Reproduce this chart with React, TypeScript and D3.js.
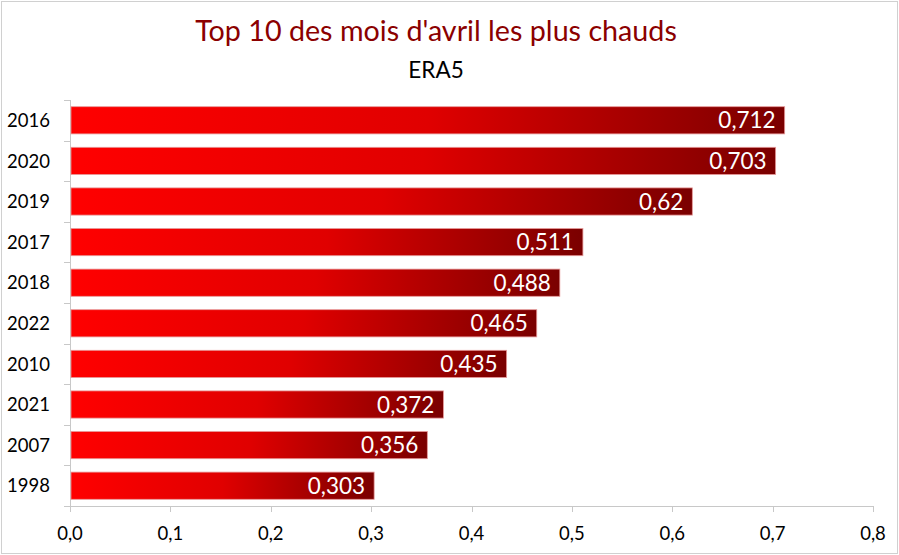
import React from "react";
import * as d3 from "d3";

const years = ["2016", "2020", "2019", "2017", "2018", "2022", "2010", "2021", "2007", "1998"];
const values = [0.712, 0.703, 0.62, 0.511, 0.488, 0.465, 0.435, 0.372, 0.356, 0.303];
const xTicks = [0, 0.1, 0.2, 0.3, 0.4, 0.5, 0.6, 0.7, 0.8];
const title = "Top 10 des mois d'avril les plus chauds";
const subtitle = "ERA5";

const W = 899;
const H = 555;
const FONT = "Lato, 'Open Sans', sans-serif";

export default function App() {
  const x = d3.scaleLinear().domain([0, 0.8]).range([70, 873]);
  const y = d3.scaleBand().domain(years).range([100, 506]).paddingInner(0.33).paddingOuter(0.165);
  const fmt = (v: number) => v.toString().replace(".", ",");
  const tickFmt = (v: number) => v.toFixed(1).replace(".", ",");
  const bandBounds = d3.range(years.length + 1).map((i) => 100 + (i * (506 - 100)) / years.length);

  return (
    <svg width={W} height={H} style={{ position: "absolute", left: 0, top: 0, fontFamily: FONT }}>
      <defs>
        <linearGradient id="barGrad" x1="0" x2="1" y1="0" y2="0">
          <stop offset="0%" stopColor="#ff0000" />
          <stop offset="50%" stopColor="#e00000" />
          <stop offset="100%" stopColor="#7a0000" />
        </linearGradient>
      </defs>
      <rect x={1.5} y={1.5} width={W - 3} height={H - 3} fill="#fff" stroke="#d0d0d0" strokeWidth={1} />
      <text x={436} y={41} textAnchor="middle" fontSize={28.7} fill="#8b0000">
        {title}
      </text>
      <text x={436} y={78} textAnchor="middle" fontSize={22.5} fill="#000">
        {subtitle}
      </text>
      {/* y axis */}
      <line x1={70.5} x2={70.5} y1={100} y2={506} stroke="#c8c8c8" />
      {bandBounds.map((b, i) => (
        <line key={"yt" + i} x1={64} x2={70.5} y1={Math.round(b) + 0.5} y2={Math.round(b) + 0.5} stroke="#c8c8c8" />
      ))}
      {/* x axis */}
      <line x1={70} x2={873.5} y1={506.5} y2={506.5} stroke="#c8c8c8" />
      {xTicks.map((t) => (
        <g key={"xt" + t}>
          <line x1={Math.round(x(t)) + 0.5} x2={Math.round(x(t)) + 0.5} y1={506} y2={512} stroke="#c8c8c8" />
          <text x={x(t)} y={540} textAnchor="middle" fontSize={18.5} fill="#000">
            {tickFmt(t)}
          </text>
        </g>
      ))}
      {years.map((yr, i) => (
        <g key={yr}>
          <rect
            x={x(0) + 1}
            y={y(yr)!}
            width={x(values[i]) - x(0) - 1}
            height={y.bandwidth()}
            fill="url(#barGrad)"
            stroke="#e79a9a"
            strokeWidth={0.8}
          />
          <text
            x={x(values[i]) - 9}
            y={y(yr)! + y.bandwidth() / 2}
            dy="0.36em"
            textAnchor="end"
            fontSize={22.5}
            fill="#fff"
          >
            {fmt(values[i])}
          </text>
          <text x={50} y={y(yr)! + y.bandwidth() / 2} dy="0.36em" textAnchor="end" fontSize={18.5} fill="#000">
            {yr}
          </text>
        </g>
      ))}
    </svg>
  );
}
